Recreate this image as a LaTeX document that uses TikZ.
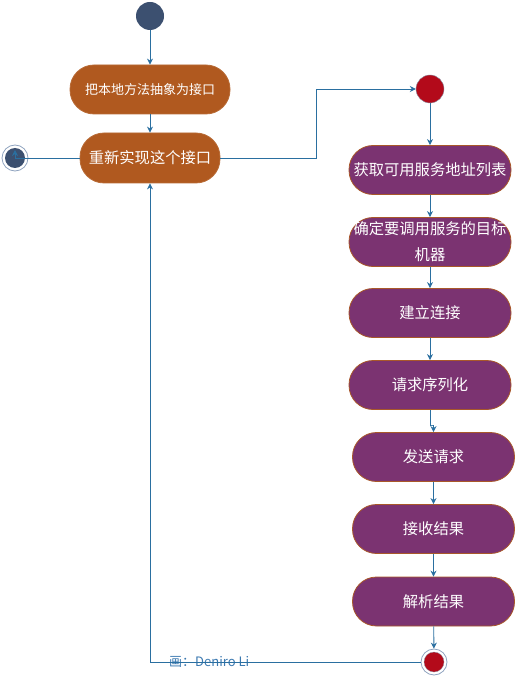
\documentclass[tikz,border=0pt]{standalone}
\usepackage{fontspec}
\newfontfamily\cjk{Noto Sans CJK SC}
\usetikzlibrary{arrows.meta}
\definecolor{orng}{HTML}{B0591F}
\definecolor{purp}{HTML}{7B3371}
\definecolor{pborder}{HTML}{A9582A}
\definecolor{dark}{HTML}{3C5070}
\definecolor{redc}{HTML}{B30A1A}
\definecolor{conncol}{HTML}{2A6FA0}
\definecolor{ringcol}{HTML}{8FA3BF}
\definecolor{lblcol}{HTML}{3A78B0}
\tikzset{
  actbox/.style={rectangle, rounded corners=24pt, minimum width=162pt, minimum height=49pt,
    text=white, font=\cjk\fontsize{15.3}{26}\selectfont, align=center, inner sep=0pt, line width=0.8pt},
  orangebox/.style={actbox, fill=orng, draw=orng!90!white},
  purplebox/.style={actbox, fill=purp, draw=pborder},
  conn/.style={draw=conncol, line width=0.9pt, -{Stealth[length=6pt,width=6pt]}},
  startdot/.style={circle, fill=dark, minimum size=28pt, inner sep=0pt},
  reddot/.style={circle, fill=redc, draw=dark!60, line width=0.4pt, minimum size=28pt, inner sep=0pt},
  endring/.style={circle, draw=ringcol, fill=white, line width=0.8pt, minimum size=26pt, inner sep=0pt},
  lbl/.style={text=lblcol, font=\cjk\fontsize{13}{15}\selectfont, inner sep=0pt}
}
\begin{document}
\begin{tikzpicture}[x=1pt,y=-1pt]
\useasboundingbox (0,0) rectangle (517,684);
% left column
\node[startdot] (s) at (150,16) {};
\node[orangebox, minimum width=160pt, font=\cjk\fontsize{13}{16}\selectfont] (b1) at (150,89.5) {把本地方法抽象为接口};
\node[orangebox, minimum width=140pt, minimum height=50pt] (b2) at (150,158) {重新实现这个接口};
\node[endring] (e1) at (15,158) {};
\node[circle, fill=dark, minimum size=20pt, inner sep=0pt] (e1in) at (15,158) {};
% right column
\node[reddot] (r1) at (430,89) {};
\node[purplebox] (b3) at (430,170) {获取可用服务地址列表};
\node[purplebox] (b4) at (430,242) {确定要调用服务的目标\\机器};
\node[purplebox] (b5) at (430,313) {建立连接};
\node[purplebox] (b6) at (430,385) {请求序列化};
\node[purplebox] (b7) at (433.5,457) {发送请求};
\node[purplebox] (b8) at (433.5,529) {接收结果};
\node[purplebox] (b9) at (433.5,601.5) {解析结果};
\node[endring] (e2) at (434,662) {};
\node[circle, fill=redc, draw=dark!60, line width=0.3pt, minimum size=20pt, inner sep=0pt] (e2in) at (434,662) {};
\node[lbl, anchor=west] (lab) at (169,662) {画：Deniro Li};
% connectors
\coordinate (j1) at (316,158);
\coordinate (j2) at (432,425);
\coordinate (e1up) at (15,150);
\draw[conn] (s) -- (b1);
\draw[conn] (b1) -- (b2);
\draw[conn] (b2.west) -| (e1up);
\draw[conn] (b2.east) -- (j1) |- (r1.west);
\draw[conn] (r1) -- (b3);
\draw[conn] (b3) -- (b4);
\draw[conn] (b4) -- (b5);
\draw[conn] (b5) -- (b6);
\draw[conn] (b6.south) |- (j2) -| (b7.north);
\draw[conn] (b7) -- (b8);
\draw[conn] (b8) -- (b9);
\draw[conn] (b9) -- (e2);
\draw[conn] (e2.west) -| (b2.south);
\end{tikzpicture}
\end{document}
